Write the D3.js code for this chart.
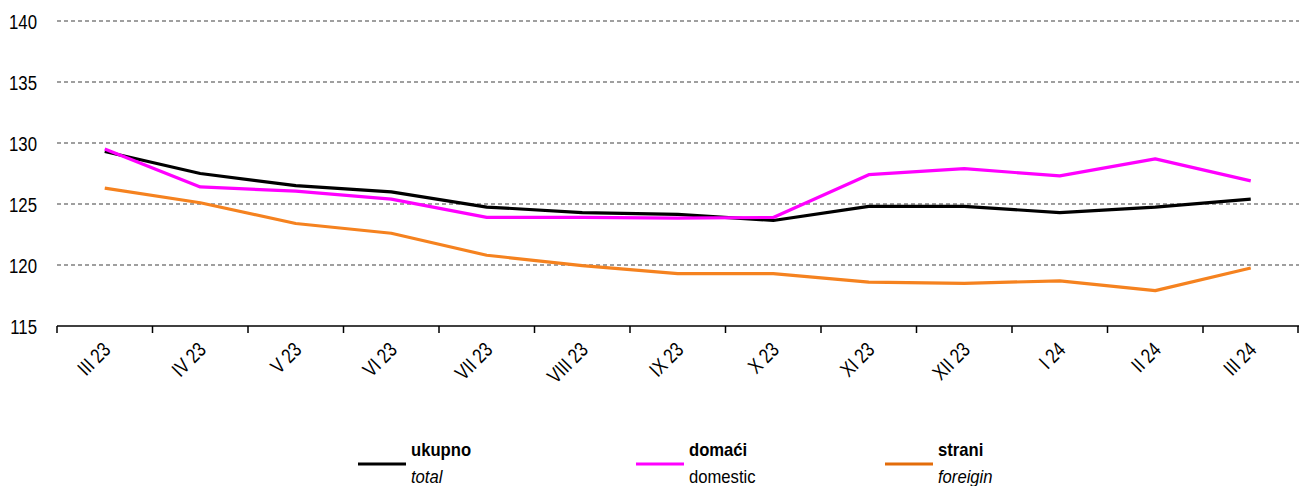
<!DOCTYPE html>
<html>
<head>
<meta charset="utf-8">
<script src="https://cdn.jsdelivr.net/npm/d3@7"></script>
<style>
  html, body { margin: 0; padding: 0; background: #fff; }
  svg { display: block; }
  text { font-family: "Liberation Sans", Arial, sans-serif; }
</style>
</head>
<body>
<svg id="chart" width="1299" height="486"></svg>
<script>
const categories = ["III 23","IV 23","V 23","VI 23","VII 23","VIII 23","IX 23","X 23","XI 23","XII 23","I 24","II 24","III 24"];
const ukupno  = [129.3,127.5,126.5,126.0,124.75,124.3,124.15,123.65,124.8,124.8,124.3,124.75,125.4];
const domaci  = [129.5,126.4,126.05,125.4,123.9,123.9,123.85,123.9,127.4,127.9,127.3,128.7,126.9];
const strani  = [126.3,125.1,123.4,122.6,120.8,119.95,119.3,119.3,118.6,118.5,118.7,117.9,119.75];
const yTicks  = [115,120,125,130,135,140];
const seriesNames = ["ukupno","domaći","strani"];
const seriesNamesEn = ["total","domestic","foreigin"];

const series = [
  {name: seriesNames[0], en: seriesNamesEn[0], values: ukupno, color: "#000000", legendColor: "#000000", italic: true},
  {name: seriesNames[1], en: seriesNamesEn[1], values: domaci, color: "#ff00ff", legendColor: "#ff00ff", italic: false},
  {name: seriesNames[2], en: seriesNamesEn[2], values: strani, color: "#f5821f", legendColor: "#e36c0a", italic: true}
];

const svg = d3.select("#chart");
const mLeft = 57, mRight = 1298.5, mTop = 21, mBottom = 326;

const x = d3.scaleBand().domain(categories).range([mLeft, mRight]).padding(0);
const y = d3.scaleLinear().domain([115, 140]).range([mBottom, mTop]);

// gridlines
svg.append("g").selectAll("line")
  .data(yTicks.filter(d => d !== 115))
  .join("line")
  .attr("x1", mLeft).attr("x2", 1299)
  .attr("y1", d => y(d)).attr("y2", d => y(d))
  .attr("stroke", "#808080")
  .attr("stroke-width", 1.3)
  .attr("stroke-dasharray", "4,3");

// y labels (condensed look)
svg.append("g").selectAll("text")
  .data(yTicks)
  .join("text")
  .attr("transform", d => `translate(37,${y(d)}) scale(0.8,1)`)
  .attr("dy", "0.36em")
  .attr("text-anchor", "end")
  .attr("font-size", 21)
  .attr("fill", "#000")
  .text(d => d);

// x axis
const xAxis = svg.append("g");
xAxis.append("line")
  .attr("x1", mLeft).attr("x2", 1299)
  .attr("y1", mBottom).attr("y2", mBottom)
  .attr("stroke", "#000").attr("stroke-width", 1.5);
const tickPos = categories.map(c => x(c)).concat([x(categories[categories.length-1]) + x.bandwidth()]);
xAxis.selectAll("line.tick")
  .data(tickPos)
  .join("line")
  .attr("class", "tick")
  .attr("x1", d => Math.min(d, 1298)).attr("x2", d => Math.min(d, 1298))
  .attr("y1", mBottom).attr("y2", mBottom + 7)
  .attr("stroke", "#000").attr("stroke-width", 1.5);

xAxis.selectAll("text")
  .data(categories)
  .join("text")
  .attr("text-anchor", "end")
  .attr("font-size", 20.5)
  .attr("fill", "#000")
  .attr("transform", d => {
    const cx = x(d) + x.bandwidth() / 2 + 7;
    return `translate(${cx},${mBottom + 25}) rotate(-45) scale(0.8,1)`;
  })
  .text(d => d);

// lines
const line = d3.line()
  .x((d, i) => x(categories[i]) + x.bandwidth() / 2)
  .y(d => y(d));

svg.append("g").selectAll("path")
  .data(series)
  .join("path")
  .attr("fill", "none")
  .attr("stroke", d => d.color)
  .attr("stroke-width", 3.2)
  .attr("stroke-linejoin", "round")
  .attr("d", d => line(d.values));

// legend
const legendX = [358, 636, 885];
const lg = svg.append("g").selectAll("g")
  .data(series)
  .join("g")
  .attr("transform", (d, i) => `translate(${legendX[i]},0)`);
lg.append("line")
  .attr("x1", 0).attr("x2", 48)
  .attr("y1", 464).attr("y2", 464)
  .attr("stroke", d => d.legendColor)
  .attr("stroke-width", 3);
lg.append("text")
  .attr("transform", "translate(53,456) scale(0.9,1)")
  .attr("font-size", 18.5)
  .attr("font-weight", "bold")
  .attr("fill", "#000")
  .text(d => d.name);
lg.append("text")
  .attr("transform", "translate(53,483) scale(0.9,1)")
  .attr("font-size", 18.5)
  .attr("font-style", d => d.italic ? "italic" : "normal")
  .attr("fill", "#000")
  .text(d => d.en);
</script>
</body>
</html>
